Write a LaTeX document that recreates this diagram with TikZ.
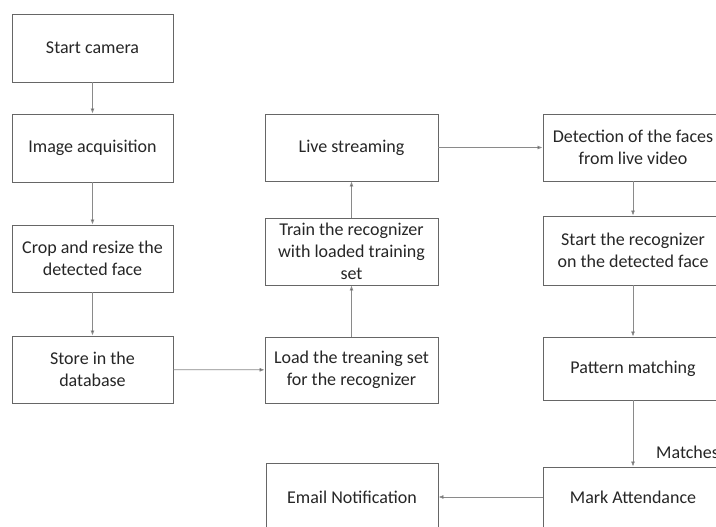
\documentclass[tikz,border=0pt]{standalone}
\usepackage{fontspec}
\setmainfont{Carlito}
\usetikzlibrary{arrows.meta}
\definecolor{boxline}{HTML}{666666}
\definecolor{arrline}{HTML}{8A8A8A}
\definecolor{txt}{HTML}{262626}
\begin{document}
\begin{tikzpicture}[x=1pt,y=-1pt,
  box/.style={draw=boxline,line width=0.9pt,fill=white,inner sep=0pt,align=center,
    text=txt,font=\fontsize{18}{22}\selectfont},
  arr/.style={draw=arrline,line width=0.8pt,-{Latex[length=5pt,width=4pt,fill=black!80]}}]
\useasboundingbox[fill=white] (0,0) rectangle (716,527);
\node[box,minimum width=161pt,minimum height=68pt] (A) at (92.5,48) {Start camera};
\node[box,minimum width=161pt,minimum height=68pt] (B) at (92.5,148) {Image acquisition};
\node[box,minimum width=161pt,minimum height=67pt] (C) at (92.5,258.5) {Crop and resize the\\detected face};
\node[box,minimum width=161pt,minimum height=67pt] (D) at (92.5,369.5) {Store in the\\database};
\node[box,minimum width=173pt,minimum height=66pt] (E) at (351.5,370) {Load the treaning set\\for the recognizer};
\node[box,minimum width=173pt,minimum height=67pt] (F) at (351.5,251.5) {Train the recognizer\\with loaded training\\set};
\node[box,minimum width=173pt,minimum height=67pt] (G) at (351.5,147.5) {Live streaming};
\node[box,minimum width=180pt,minimum height=67pt] (H) at (633,147.5) {Detection of the faces\\from live video};
\node[box,minimum width=180pt,minimum height=69pt] (I) at (633,250.5) {Start the recognizer\\on the detected face};
\node[box,minimum width=180pt,minimum height=63pt] (J) at (633,368.5) {Pattern matching};
\node[box,minimum width=180pt,minimum height=60pt] (K) at (633,497) {Mark Attendance};
\node[box,minimum width=172pt,minimum height=68pt] (L) at (352,497) {Email Notification};
\node[anchor=west,inner sep=0pt,text=txt,font=\fontsize{18}{22}\selectfont] (M) at (656,452) {Matches};
\draw[arr] (A) -- (B);
\draw[arr] (B) -- (C);
\draw[arr] (C) -- (D);
\draw[arr] (D) -- (E);
\draw[arr] (E) -- (F);
\draw[arr] (F) -- (G);
\draw[arr] (G) -- (H);
\draw[arr] (H) -- (I);
\draw[arr] (I) -- (J);
\draw[arr] (J) -- (K);
\draw[arr] (K) -- (L);
\end{tikzpicture}
\end{document}
